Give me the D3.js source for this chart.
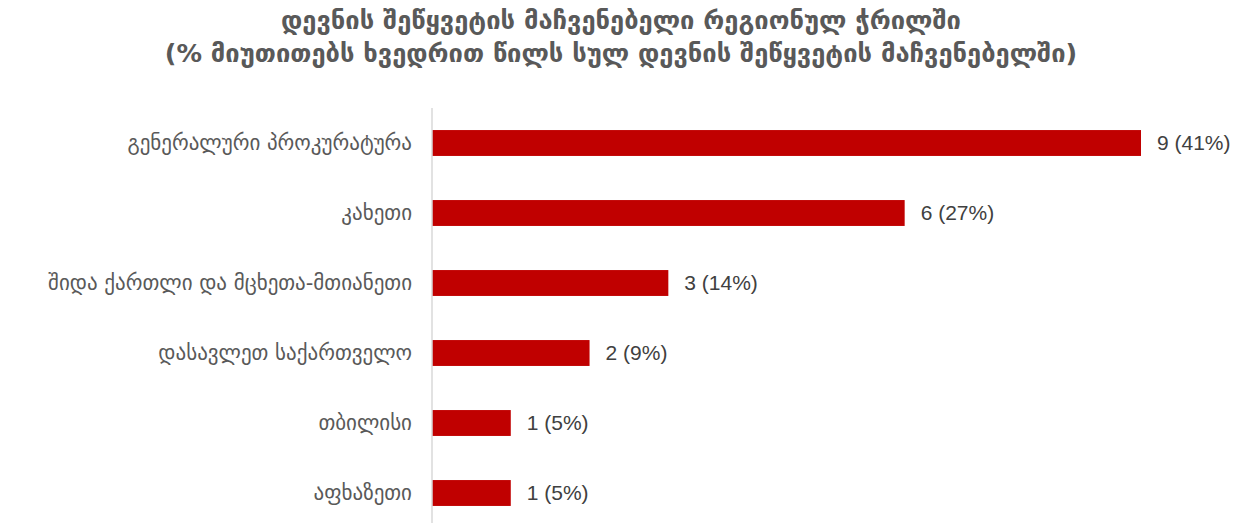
<!DOCTYPE html>
<html><head><meta charset="utf-8">
<script src="https://cdn.jsdelivr.net/npm/d3@7"></script>
<style>body{margin:0;background:#fff}</style>
</head><body>
<svg id="c" width="1243" height="523"></svg>
<script>
const titleLines = ["დევნის შეწყვეტის მაჩვენებელი რეგიონულ ჭრილში","(% მიუთითებს ხვედრით წილს სულ დევნის შეწყვეტის მაჩვენებელში)"];
const categories = ["გენერალური პროკურატურა","კახეთი","შიდა ქართლი და მცხეთა-მთიანეთი","დასავლეთ საქართველო","თბილისი","აფხაზეთი"];
const values = [9,6,3,2,1,1];
const percents = ["41%","27%","14%","9%","5%","5%"];

const svg = d3.select("#c");
const geo = "'DejaVu Sans','Noto Sans Georgian','Noto Sans',sans-serif";
const x0 = 432, y0 = 108;
const x = d3.scaleLinear().domain([0,9]).range([x0, 1141]);
const y = d3.scaleBand().domain(categories).range([y0, y0+420]).paddingInner(0.63).paddingOuter(0.315);

svg.selectAll("text.t").data(titleLines).join("text")
  .attr("x", 621).attr("y",(d,i)=>29+i*33).attr("text-anchor","middle")
  .attr("font-family",geo).attr("font-size",25.5).attr("font-weight","bold").attr("fill","#595959").text(d=>d);

svg.selectAll("rect.b").data(values).join("rect")
  .attr("x", x(0)).attr("y",(d,i)=>y(categories[i]))
  .attr("width",d=>x(d)-x(0)).attr("height",y.bandwidth()).attr("fill","#C00000");

svg.append("line").attr("x1",x0).attr("x2",x0).attr("y1",y0).attr("y2",523)
  .attr("stroke","#d9d9d9").attr("stroke-width",1.5);

svg.selectAll("text.c").data(categories).join("text")
  .attr("x", x0-20).attr("y",d=>y(d)+y.bandwidth()/2).attr("dy","0.35em")
  .attr("text-anchor","end").attr("font-family",geo).attr("font-size",21).attr("fill","#595959").text(d=>d);

svg.selectAll("text.v").data(values).join("text")
  .attr("x", d=>x(d)+16).attr("y",(d,i)=>y(categories[i])+y.bandwidth()/2).attr("dy","0.35em")
  .attr("font-family","'Liberation Sans',sans-serif").attr("font-size",21).attr("fill","#404040")
  .text((d,i)=>`${d} (${percents[i]})`);
</script>
</body></html>
